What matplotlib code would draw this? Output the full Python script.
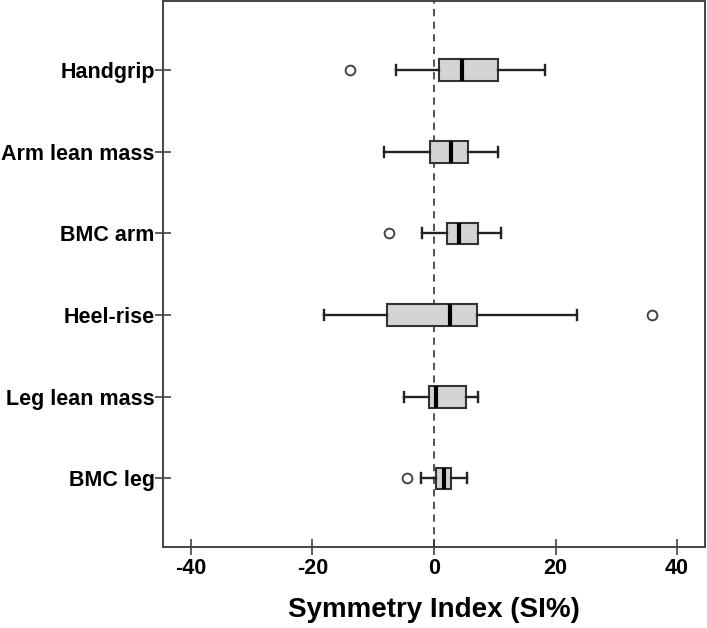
import matplotlib
matplotlib.use("Agg")
import matplotlib.pyplot as plt

categories = ["Handgrip", "Arm lean mass", "BMC arm", "Heel-rise", "Leg lean mass", "BMC leg"]
whisker_low = [-6.3, -8.2, -1.9, -18.1, -4.9, -2.2]
q1 = [0.9, -0.7, 2.2, -7.7, -0.8, 0.4]
median = [4.6, 2.8, 4.05, 2.6, 0.4, 1.6]
q3 = [10.6, 5.6, 7.2, 7.0, 5.3, 2.8]
whisker_high = [18.3, 10.5, 11.1, 23.5, 7.2, 5.4]
outliers = [[-13.8], [], [-7.4], [35.8], [], [-4.5]]
xticks = [-40, -20, 0, 20, 40]

plt.rcParams['font.family'] = ['Liberation Sans', 'DejaVu Sans']

fig = plt.figure(figsize=(7.07, 6.28), dpi=100)
ax = fig.add_axes([163/707, 1 - 547/628, (705-163)/707, (547-1)/628])

stats = []
for i, c in enumerate(categories):
    stats.append(dict(label=c, whislo=whisker_low[i], q1=q1[i], med=median[i],
                      q3=q3[i], whishi=whisker_high[i], fliers=outliers[i]))

positions = list(range(1, len(categories) + 1))
ax.bxp(stats, positions=positions, vert=False, widths=0.265, patch_artist=True,
       boxprops=dict(facecolor='#d4d4d4', edgecolor='#333333', linewidth=1.5),
       medianprops=dict(color='black', linewidth=3),
       whiskerprops=dict(color='#222222', linewidth=1.7),
       capprops=dict(color='#222222', linewidth=1.7),
       capwidths=0.12,
       flierprops=dict(marker='o', markersize=7, markerfacecolor='white',
                       markeredgecolor='#444444', markeredgewidth=1.4))

ax.axvline(0, color='#444444', linestyle=(0, (4, 3)), linewidth=1.3, zorder=0)

ax.set_xlim(-44.6, 44.6)
ax.set_ylim(6.84, 0.155)
ax.set_xticks(xticks)
ax.set_xticklabels([str(t) for t in xticks], fontsize=15.5, fontweight='bold')
ax.set_yticks(positions)
ax.set_yticklabels(categories, fontsize=15.5, fontweight='bold')
ax.tick_params(axis='both', direction='inout', length=12, width=1.1, color='#333333')
ax.tick_params(axis='x', pad=2)
ax.tick_params(axis='y', pad=0)
for s in ax.spines.values():
    s.set_color('#444444')
    s.set_linewidth(1.4)

ax.set_xlabel("Symmetry Index (SI%)", fontsize=20, fontweight='bold', labelpad=13)

fig.savefig("out.png", dpi=100)
